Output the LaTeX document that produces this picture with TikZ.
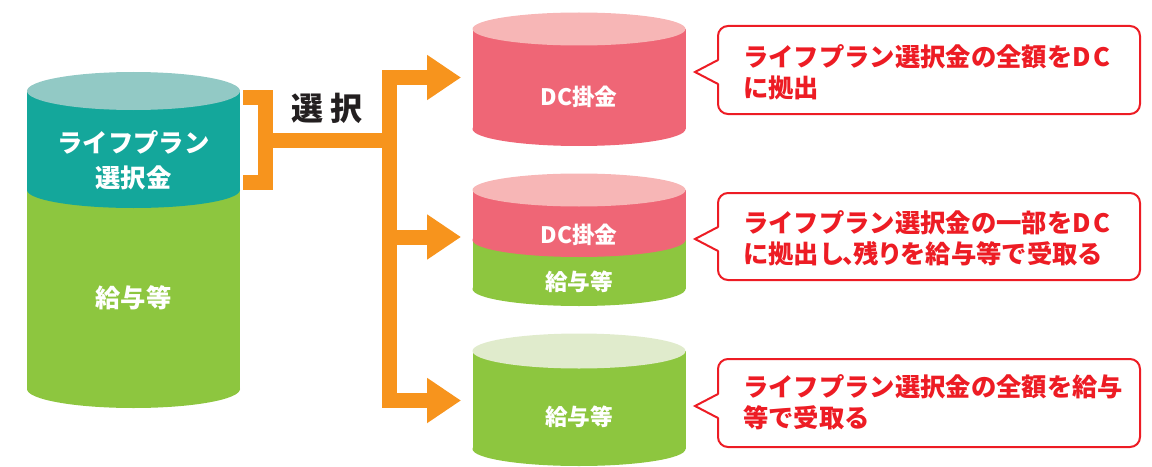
\documentclass[tikz,border=0pt]{standalone}
\usepackage{fontspec}
\setmainfont{Noto Sans CJK JP}
\usetikzlibrary{arrows.meta}
\definecolor{tealbody}{HTML}{14A79B}
\definecolor{tealtop}{HTML}{92C9C5}
\definecolor{greenbody}{HTML}{8DC63F}
\definecolor{greentop}{HTML}{E0EBCC}
\definecolor{pinkbody}{HTML}{EF6676}
\definecolor{pinktop}{HTML}{F7B6B6}
\definecolor{orangeC}{HTML}{F7941D}
\definecolor{redC}{HTML}{ED1C24}
\definecolor{darkC}{HTML}{231F20}
\begin{document}
\begin{tikzpicture}[x=0.75pt,y=-0.75pt,
  orangeline/.style={draw=orangeC, line width=11.25pt, line join=miter},
  arrowline/.style={orangeline, -{Triangle[length=25.5pt,width=32.25pt]}},
  cyltext/.style={text=white, font=\bfseries\fontsize{17}{20}\selectfont, inner sep=0pt},
  bigtext/.style={text=white, font=\bfseries\fontsize{19}{26}\selectfont, inner sep=0pt, align=center},
  calloutbox/.style={draw=redC, line width=1.5pt, fill=white, rounded corners=7.5pt,
     minimum width=316.5pt, minimum height=66pt, inner sep=0pt},
  callouttext/.style={text=redC, font=\bfseries\fontsize{19}{23.25}\selectfont, align=left, anchor=west, inner sep=0pt},
  pointer/.style={draw=redC, line width=1.5pt, line join=miter}
]
\useasboundingbox (0,0) rectangle (1152,467);

% ---------- left cylinder ----------
\fill[greenbody] (133.5,389) ellipse [x radius=106.5, y radius=19];
\fill[greenbody] (27,190) rectangle (240,389);
\fill[tealbody] (133.5,190) ellipse [x radius=106.5, y radius=18];
\fill[tealbody] (27,91) rectangle (240,190);
\fill[tealtop] (133.5,91) ellipse [x radius=106.5, y radius=19];
\node[bigtext] (lp) at (133.5,160) {ライフプラン\\選択金};
\node[bigtext] (lk) at (133.5,298) {給与等};

% ---------- cylinder 1 ----------
\fill[pinkbody] (579,129) ellipse [x radius=106.5, y radius=17];
\fill[pinkbody] (472.5,29) rectangle (685.5,129);
\fill[pinktop] (579,29) ellipse [x radius=106.5, y radius=16.5];
\node[cyltext] (c1) at (579,97) {DC掛金};

% ---------- cylinder 2 ----------
\fill[greenbody] (579,289) ellipse [x radius=106.5, y radius=17];
\fill[greenbody] (472.5,240) rectangle (685.5,289);
\fill[pinkbody] (579,240) ellipse [x radius=106.5, y radius=17];
\fill[pinkbody] (472.5,190) rectangle (685.5,240);
\fill[pinktop] (579,190) ellipse [x radius=106.5, y radius=16.5];
\node[cyltext] (c2a) at (579,235) {DC掛金};
\node[cyltext] (c2b) at (579,282) {給与等};

% ---------- cylinder 3 ----------
\fill[greenbody] (579,449) ellipse [x radius=106.5, y radius=17];
\fill[greenbody] (472.5,351) rectangle (685.5,449);
\fill[greentop] (579,351) ellipse [x radius=106.5, y radius=17.5];
\node[cyltext] (c3) at (579,417) {給与等};

% ---------- bracket and arrows ----------
\coordinate (bt) at (243,97.5);
\coordinate (bb) at (243,182.5);
\coordinate (bm) at (265.5,140);
\coordinate (j) at (389,140);
\coordinate (a1) at (461,77.5);
\coordinate (a2) at (461,237);
\coordinate (a3) at (461,400.5);
\draw[orangeline] (bt) -- (265.5,97.5) -- (265.5,182.5) -- (bb);
\draw[orangeline] (bm) -- (j);
\draw[arrowline] (j) |- (a1);
\draw[arrowline] (j) |- (a3);
\draw[arrowline] (j |- a2) -- (a2);
\node[text=darkC, font=\bfseries\fontsize{24}{28}\selectfont, inner sep=0pt] (sel) at (327,108) {選\hspace{5pt}択};

% ---------- callouts ----------
\node[calloutbox] (b1) at (929,70) {};
\fill[white] (720,60) -- (695,72) -- (720,84) -- cycle;
\coordinate (p1) at (695,72);
\draw[pointer] (718,60) -- (p1) -- (718,84);
\node[callouttext] (t1) at (743,72.5) {ライフプラン選択金の全額をD\hspace{2pt}C\\に拠出};

\node[calloutbox, minimum height=65.25pt] (b2) at (929,236.5) {};
\fill[white] (720,227) -- (695,239) -- (720,251) -- cycle;
\coordinate (p2) at (695,239);
\draw[pointer] (718,227) -- (p2) -- (718,251);
\node[callouttext] (t2) at (743,238) {ライフプラン選択金の一部をD\hspace{2pt}C\\に拠出し\hspace{-0.1em}、\hspace{-0.55em}残\hspace{-0.05em}り\hspace{-0.1em}を給与等で受取る};

\node[calloutbox] (b3) at (929,403) {};
\fill[white] (720,394) -- (695,406) -- (720,418) -- cycle;
\coordinate (p3) at (695,406);
\draw[pointer] (718,394) -- (p3) -- (718,418);
\node[callouttext] (t3) at (743,402.5) {ライフプラン選択金の全額を給与\\等で受取る};
\end{tikzpicture}
\end{document}
